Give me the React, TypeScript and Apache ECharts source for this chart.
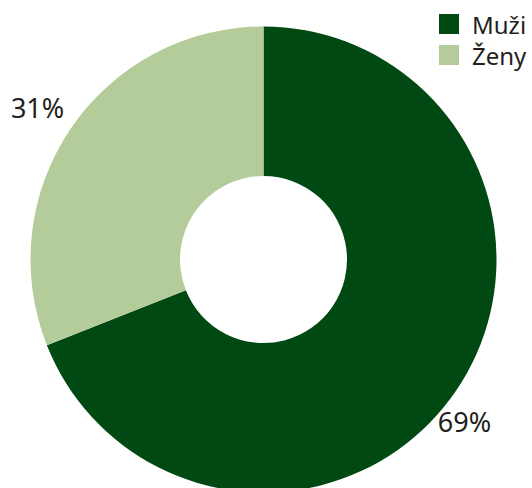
import React, { useEffect, useRef } from "react";
import * as echarts from "echarts";

const categories = ["Muži", "Ženy"];
const values = [69, 31];
const colors = ["#014913", "#b4cc99"];

export default function App() {
  const ref = useRef<HTMLDivElement>(null);
  useEffect(() => {
    document.body.style.margin = "0";
    const chart = echarts.init(ref.current!, undefined, { renderer: "svg" });
    chart.setOption({
      animation: false,
      color: colors,
      legend: {
        orient: "vertical",
        left: 439,
        top: 12,
        padding: 0,
        itemWidth: 20,
        itemHeight: 20,
        itemGap: 7,
        icon: "rect",
        data: categories,
        textStyle: {
          fontFamily: "Noto Sans",
          fontSize: 24,
          lineHeight: 20,
          color: "#231f20",
          padding: [0, 0, 0, 8],
        },
      },
      series: [
        {
          type: "pie",
          center: [263.5, 259.5],
          radius: [83.5, 233],
          startAngle: 90,
          clockwise: true,
          data: categories.map((n, i) => ({ name: n, value: values[i] })),
          label: {
            show: true,
            position: "outside",
            formatter: "{c}%",
            fontFamily: "Noto Sans",
            fontSize: 27,
            color: "#231f20",
            overflow: "none",
            width: 80,
          },
          labelLine: { show: false, length: 20, length2: 0 },
          labelLayout: (p: any) =>
            p.dataIndex === 0 ? { dx: -40, dy: 20 } : { dx: 15, dy: -10 },
          emphasis: { disabled: true },
        },
      ],
    });
    return () => chart.dispose();
  }, []);
  return <div ref={ref} style={{ width: 532, height: 488 }} />;
}
